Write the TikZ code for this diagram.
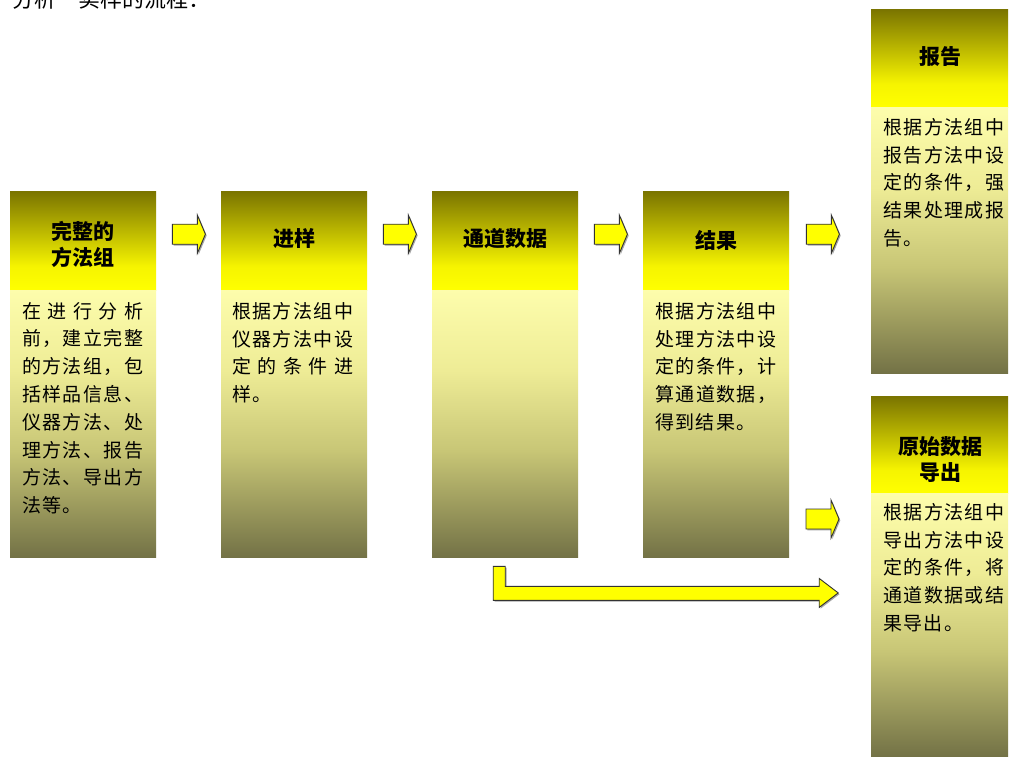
\documentclass[tikz,border=0pt]{standalone}
\usepackage{fontspec}
\setmainfont{Noto Sans CJK SC}
\usetikzlibrary{calc}

\definecolor{hdY}{RGB}{255,255,0}
\definecolor{hdY2}{RGB}{246,244,0}
\definecolor{hdO}{RGB}{122,116,0}
\definecolor{bdL}{RGB}{253,253,172}
\definecolor{bdM}{RGB}{238,236,150}
\definecolor{bdM2}{RGB}{200,198,118}
\definecolor{bdD}{RGB}{115,114,70}
\definecolor{arrowY}{RGB}{255,255,0}

\pgfdeclareverticalshading{hdrshade}{100bp}{color(0bp)=(hdY); color(25bp)=(hdY); color(37bp)=(hdY2); color(75bp)=(hdO); color(100bp)=(hdO)}
\pgfdeclareverticalshading{bodyshade}{100bp}{color(0bp)=(bdD); color(25bp)=(bdD); color(45bp)=(bdM2); color(60bp)=(bdM); color(75bp)=(bdL); color(100bp)=(bdL)}

\makeatletter
\newcommand\spreadchars[2]{\makebox[#1][s]{\sc@first#2\relax}}
\def\sc@first#1{#1\sc@loop}
\def\sc@loop#1{\ifx#1\relax\else\hfill#1\expandafter\sc@loop\fi}
\makeatother
\newcommand\LF[1]{\spreadchars{121pt}{#1}}

\tikzset{
  hdrbox/.style={shade, shading=hdrshade, draw=none, inner sep=0pt, anchor=north west, minimum width=146pt, minimum height=99pt},
  bodybox/.style={shade, shading=bodyshade, draw=none, inner sep=0pt, anchor=north west, minimum width=146pt, minimum height=267pt},
  htext/.style={font=\fontsize{21}{26}\selectfont\bfseries, align=center, inner sep=0pt, text=black},
  btext/.style={font=\fontsize{19}{27.8}\selectfont, align=left, inner sep=0pt, anchor=north west, text=black},
  arrowfill/.style={fill=arrowY, draw=black!80, line width=0.9pt, line join=miter,
    preaction={fill=black!35, transform canvas={xshift=1.3pt,yshift=-1.3pt}}},
  barrow/.pic={\draw[arrowfill] (0,-10) -- (25,-10) -- (25,-19) -- (33,0) -- (25,19) -- (25,10) -- (0,10) -- cycle;}
}

\begin{document}
\begin{tikzpicture}[x=1pt,y=-1pt]
\useasboundingbox (0,0) rectangle (1009,756);
\fill[white] (0,0) rectangle (1009,756);

\begin{scope}
\clip (0,0) rectangle (1009,756);
\node[anchor=west, inner sep=0pt, font=\fontsize{22}{22}\selectfont] (title) at (12,-1) {分析一实样的流程：};
\end{scope}

% boxes
\node[hdrbox] (h1) at (10,191) {};
\node[bodybox] (b1) at (10,290) {};
\node[hdrbox] (h2) at (221,191) {};
\node[bodybox] (b2) at (221,290) {};
\node[hdrbox] (h3) at (432,191) {};
\node[bodybox] (b3) at (432,290) {};
\node[hdrbox] (h4) at (643,191) {};
\node[bodybox] (b4) at (643,290) {};
\node[hdrbox, minimum width=137pt, minimum height=98pt] (h5) at (871,9) {};
\node[bodybox, minimum width=137pt, minimum height=266pt] (b5) at (871,107) {};
\node[hdrbox, minimum width=137pt, minimum height=97pt] (h6) at (871,396) {};
\node[bodybox, minimum width=137pt, minimum height=263pt] (b6) at (871,493) {};

% header texts
\node[htext] (t1) at (83,244) {完整的\\方法组};
\node[htext] (t2) at (294,239) {进样};
\node[htext] (t3) at (505,239) {通道数据};
\node[htext] (t4) at (716,240) {结果};
\node[htext] (t5) at (940,57) {报告};
\node[htext] (t6) at (940,460) {原始数据\\导出};

% body texts
\node[btext] (x1) at (22,302) {\LF{在进行分析}\\\LF{前，建立完整}\\\LF{的方法组，包}\\\LF{括样品信息、}\\\LF{仪器方法、处}\\\LF{理方法、报告}\\\LF{方法、导出方}\\\spreadchars{59.6pt}{法等。}};
\node[btext] (x2) at (232,302) {\LF{根据方法组中}\\\LF{仪器方法中设}\\\LF{定的条件进}\\\spreadchars{39.3pt}{样。}};
\node[btext] (x4) at (655,302) {\LF{根据方法组中}\\\LF{处理方法中设}\\\LF{定的条件，计}\\\LF{算通道数据，}\\\spreadchars{100.2pt}{得到结果。}};
\node[btext] (x5) at (883,118) {\LF{根据方法组中}\\\LF{报告方法中设}\\\LF{定的条件，强}\\\LF{结果处理成报}\\\spreadchars{39.3pt}{告。}};
\node[btext] (x6) at (883,503) {\LF{根据方法组中}\\\LF{导出方法中设}\\\LF{定的条件，将}\\\LF{通道数据或结}\\\spreadchars{79.9pt}{果导出。}};

% small block arrows
\pic at ($(h1.east)+(16,-6.5)$) {barrow};
\pic at ($(h2.east)+(16,-6.5)$) {barrow};
\pic at ($(h3.east)+(16,-6.5)$) {barrow};
\pic at ($(h4.east)+(17,-6.5)$) {barrow};
\pic at ($(b6.north west)+(-65,26)$) {barrow};

% L-shaped arrow
\draw[arrowfill] ($(b3.south)+(-12,9)$) -- ++(12,0) -- ++(0,20) -- ++(314,0) -- ++(0,-8)
  -- ++(19,14.5) -- ++(-19,14.5) -- ++(0,-7) -- ++(-326,0) -- cycle;
\end{tikzpicture}
\end{document}
